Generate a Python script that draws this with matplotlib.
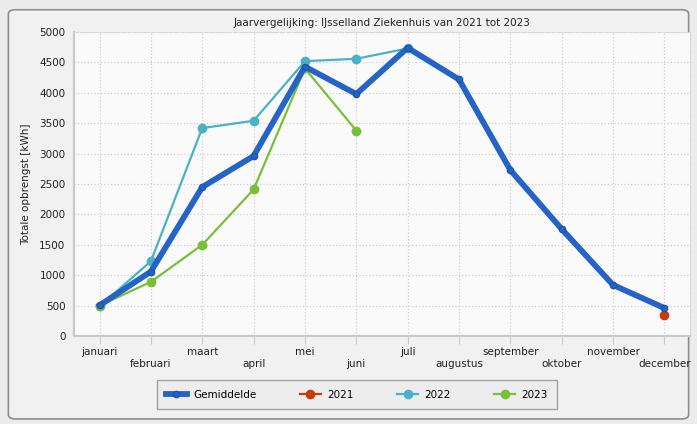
import matplotlib
matplotlib.use('Agg')
from matplotlib import pyplot as plt
from matplotlib.patches import FancyBboxPatch
import numpy as np

months = ['januari', 'februari', 'maart', 'april', 'mei', 'juni', 'juli',
          'augustus', 'september', 'oktober', 'november', 'december']
gemiddelde = [505, 1060, 2450, 2960, 4430, 3980, 4740, 4220, 2730, 1760, 840, 460]
y2021 = [None] * 11 + [345]
y2022 = [490, 1230, 3420, 3540, 4520, 4560, 4730]
y2023 = [500, 890, 1500, 2410, 4400, 3380]

c_gem = '#2563c6'
c_21 = '#c83c0c'
c_22 = '#4ab2c6'
c_23 = '#78c03a'

fig = plt.figure(figsize=(6.97, 4.24), dpi=100)
fig.patch.set_facecolor('#ececec')
frame = FancyBboxPatch((0.012, 0.012), 0.976, 0.965, boxstyle='round,pad=0,rounding_size=0.01',
                       transform=fig.transFigure, facecolor='#f1f1f1', edgecolor='#8a8f96',
                       linewidth=1.2, zorder=-1)
fig.patches.append(frame)

ax = fig.add_axes([0.106, 0.2075, 0.884, 0.717])
ax.set_facecolor('#fafafa')

x = np.arange(len(months))
ax.plot(x, gemiddelde, color=c_gem, linewidth=4.2, marker='o', markersize=4.5,
        markerfacecolor=c_gem, markeredgecolor='#1d55a8', label='Gemiddelde', zorder=5)
x21 = [i for i, v in enumerate(y2021) if v is not None]
ax.plot(x21, [y2021[i] for i in x21], color=c_21, linewidth=1.6, marker='o', markersize=6,
        label='2021', zorder=4)
ax.plot(x[:len(y2022)], y2022, color=c_22, linewidth=1.6, marker='o', markersize=6,
        label='2022', zorder=3)
ax.plot(x[:len(y2023)], y2023, color=c_23, linewidth=1.6, marker='o', markersize=6,
        label='2023', zorder=4)

ax.set_xlim(-0.5, 11.5)
ax.set_ylim(0, 5000)
ax.set_yticks(range(0, 5001, 500))
ax.set_xticks(x)
labels = [m if i % 2 == 0 else '\n' + m for i, m in enumerate(months)]
ax.set_xticklabels(labels, fontsize=7.5, color='#222222')
ax.tick_params(axis='y', labelsize=7.5, colors='#222222', length=0, pad=6)
ax.tick_params(axis='x', length=6, color='#cccccc', pad=2)
ax.grid(True, color='#d0d0d0', linestyle=':', linewidth=0.9)
for s in ['top', 'right']:
    ax.spines[s].set_color('#d8d8d8')
    ax.spines[s].set_linestyle('--')
for s in ['left', 'bottom']:
    ax.spines[s].set_color('#c8c8c8')
    ax.spines[s].set_linewidth(1.5)

ax.set_title('Jaarvergelijking: IJsselland Ziekenhuis van 2021 tot 2023', fontsize=7.5,
             color='#222222', pad=4)
ax.set_ylabel('Totale opbrengst [kWh]', fontsize=7.5, color='#222222', labelpad=6)

leg = fig.legend(loc='center', bbox_to_anchor=(0.512, 0.069), ncol=4, fontsize=7.5,
                 frameon=True, fancybox=False, edgecolor='#8a9096', facecolor='#ececec',
                 columnspacing=4.2, handlelength=2.0, borderpad=0.9, handletextpad=0.6)
leg.get_frame().set_linewidth(1.0)

fig.savefig('out.png', dpi=100, facecolor=fig.get_facecolor())
